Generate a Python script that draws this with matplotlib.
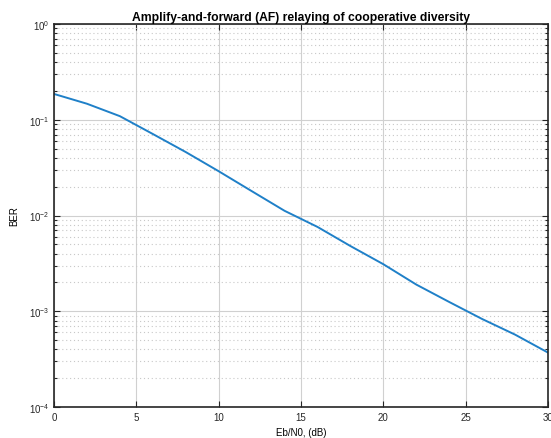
import matplotlib
matplotlib.use("Agg")
import matplotlib.pyplot as plt
from matplotlib.ticker import LogLocator, NullFormatter

plt.rcParams['font.family'] = ['Liberation Sans', 'DejaVu Sans']

ebn0_db = [0, 2, 4, 6, 8, 10, 12, 14, 16, 18, 20, 22, 24, 26, 28, 30]
ber = [0.186, 0.147, 0.109, 0.071, 0.046, 0.029, 0.018, 0.0112, 0.0076,
       0.0048, 0.0031, 0.0019, 0.00125, 0.00083, 0.00057, 0.00037]
x_ticks = [0, 5, 10, 15, 20, 25, 30]
title = "Amplify-and-forward (AF) relaying of cooperative diversity"

fig = plt.figure(figsize=(5.51, 4.39), dpi=100)
ax = fig.add_axes([54/551, 31/439, 494/551, 383/439])

ax.semilogy(ebn0_db, ber, color='#1f80c8', linewidth=1.4)
ax.set_xlim(0, 30)
ax.set_ylim(1e-4, 1)
ax.set_xticks(x_ticks)
ax.yaxis.set_major_locator(LogLocator(base=10, numticks=10))
ax.yaxis.set_minor_locator(LogLocator(base=10, subs=range(2, 10), numticks=50))
ax.yaxis.set_minor_formatter(NullFormatter())

ax.grid(True, which='major', color='#d0d0d0', linewidth=0.8, linestyle='-')
ax.grid(True, which='minor', axis='y', color='#c8c8c8', linewidth=0.8, linestyle=(0, (1, 2.5)))
ax.set_axisbelow(True)

ax.tick_params(which='both', direction='in', top=True, right=True, labelsize=7, colors='#262626')
ax.tick_params(which='major', length=4, width=0.8)
ax.tick_params(which='minor', length=2.5, width=0.8)
for s in ax.spines.values():
    s.set_color('#262626')
    s.set_linewidth(1.2)

ax.set_title(title, fontsize=8.7, fontweight='bold', pad=3)
ax.set_xlabel("Eb/N0, (dB)", fontsize=7, labelpad=4)
ax.set_ylabel("BER", fontsize=7, labelpad=7)

fig.savefig("out.png", dpi=100)
